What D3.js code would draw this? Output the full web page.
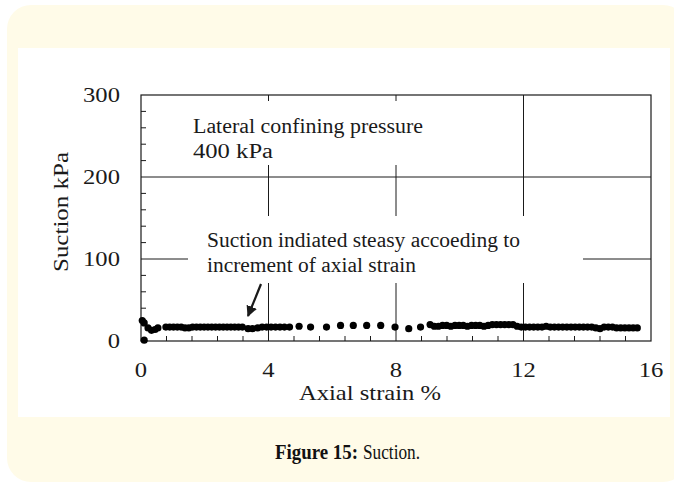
<!DOCTYPE html>
<html lang="en">
<head>
    <meta charset="UTF-8">
    <title>Figure 15 Suction</title>
    <script src="https://d3js.org/d3.v7.min.js"></script>
    <style>
        body { margin: 0; background: #ffffff; }
        svg { display: block; }
    </style>
</head>
<body>

<script>
    // data: axial strain (%) and suction (kPa)
    const strain = [0.04, 0.1, 0.1, 0.22, 0.33, 0.44, 0.53,
        0.78, 0.9, 1.02, 1.14, 1.26, 1.38, 1.5, 1.62, 1.74, 1.86, 1.98, 2.1, 2.22, 2.34, 2.46, 2.58, 2.7, 2.82, 2.94, 3.06, 3.18,
        3.36, 3.5, 3.66, 3.8, 3.94, 4.08, 4.22, 4.36, 4.5, 4.66,
        4.96, 5.32, 5.82, 6.26, 6.66, 7.08, 7.52, 7.97, 8.4, 8.77,
        9.07, 9.2, 9.33, 9.46, 9.59, 9.72, 9.85, 9.98, 10.11, 10.24, 10.37, 10.5, 10.63, 10.76, 10.89,
        11.02, 11.15, 11.28, 11.41, 11.54, 11.67, 11.8, 11.93, 12.06, 12.19, 12.32, 12.45, 12.58, 12.71, 12.84, 12.97,
        13.1, 13.23, 13.36, 13.49, 13.62, 13.75, 13.88, 14.01, 14.14, 14.27, 14.4, 14.53, 14.66, 14.79, 14.92,
        15.05, 15.18, 15.31, 15.44, 15.57];
    const suction = [25, 22, 1, 16, 13, 14, 16,
        17, 17, 17, 17, 17, 16, 16, 17, 17, 17, 17, 17, 17, 17, 17, 17, 17, 17, 17, 17, 17,
        15, 15, 16, 17, 17, 17, 17, 17, 17, 17,
        18, 17, 17, 19, 19, 19, 19, 17, 15, 17,
        20, 18, 18, 19, 19, 18, 19, 19, 19, 18, 19, 19, 19, 18, 19,
        20, 20, 20, 20, 20, 20, 18, 17, 17, 17, 17, 17, 17, 18, 17, 17,
        17, 17, 17, 17, 17, 17, 17, 17, 17, 16, 15, 17, 17, 17, 16,
        16, 16, 16, 16, 16];

    const xTicks = [0, 4, 8, 12, 16];
    const yTicks = [0, 100, 200, 300];

    const width = 674, height = 485;
    const plotL = 141, plotR = 651, plotT = 95, plotB = 341;

    const svg = d3.select("body").append("svg")
        .attr("width", width)
        .attr("height", height);

    // page background: cream card with white chart panel
    svg.append("rect")
        .attr("x", 7).attr("y", 5)
        .attr("width", 680).attr("height", 477)
        .attr("rx", 24)
        .attr("fill", "#fffbe8");
    svg.append("rect")
        .attr("x", 18).attr("y", 48)
        .attr("width", 652).attr("height", 369)
        .attr("fill", "#ffffff");

    const x = d3.scaleLinear().domain([0, 16]).range([plotL, plotR]);
    const y = d3.scaleLinear().domain([0, 300]).range([plotB, plotT]);

    const ink = "#1a1a1a";
    const serif = "'Liberation Serif', 'Times New Roman', serif";

    // gridlines
    const grid = svg.append("g").attr("stroke", ink).attr("stroke-width", 1);
    grid.selectAll(".vg").data([4, 8, 12]).enter().append("line")
        .attr("x1", d => x(d)).attr("x2", d => x(d))
        .attr("y1", plotT).attr("y2", plotB);
    grid.selectAll(".hg").data([100, 200]).enter().append("line")
        .attr("x1", plotL).attr("x2", plotR)
        .attr("y1", d => y(d)).attr("y2", d => y(d));

    // minor ticks, pointing inwards
    const minorX = d3.range(0, 16.01, 0.8).filter(v => v % 4 > 0.01 && v % 4 < 3.99);
    svg.append("g").selectAll("line").data(minorX).enter().append("line")
        .attr("x1", d => x(d)).attr("x2", d => x(d))
        .attr("y1", plotB).attr("y2", plotB - 5)
        .attr("stroke", ink);
    const minorY = d3.range(0, 300.1, 20).filter(v => v % 100 !== 0);
    svg.append("g").selectAll("line").data(minorY).enter().append("line")
        .attr("x1", plotL).attr("x2", plotL + 5)
        .attr("y1", d => y(d)).attr("y2", d => y(d))
        .attr("stroke", ink);

    // annotation boxes (white background hides the gridlines behind)
    svg.append("rect")
        .attr("x", 182).attr("y", 101).attr("width", 300).attr("height", 64)
        .attr("fill", "#fff");
    svg.append("rect")
        .attr("x", 188).attr("y", 216).attr("width", 395).attr("height", 67)
        .attr("fill", "#fff");

    function note(tx, ty, str, len) {
        svg.append("text")
            .attr("x", tx).attr("y", ty)
            .attr("font-family", serif).attr("font-size", 20.5).attr("fill", ink)
            .attr("textLength", len).attr("lengthAdjust", "spacingAndGlyphs")
            .text(str);
    }
    note(193, 133, "Lateral confining pressure", 230);
    note(193, 158, "400 kPa", 80);
    note(207, 247, "Suction indiated steasy accoeding to", 313);
    note(207, 272, "increment of axial strain", 209);

    // arrow
    svg.append("defs").append("marker")
        .attr("id", "head")
        .attr("viewBox", "0 0 10 10")
        .attr("refX", 9).attr("refY", 5)
        .attr("markerWidth", 5).attr("markerHeight", 5)
        .attr("orient", "auto")
        .append("path").attr("d", "M0,0 L10,5 L0,10 z").attr("fill", ink);
    svg.append("line")
        .attr("x1", 261).attr("y1", 284)
        .attr("x2", 248).attr("y2", 316)
        .attr("stroke", ink).attr("stroke-width", 2.2)
        .attr("marker-end", "url(#head)");

    // frame
    svg.append("rect")
        .attr("x", plotL).attr("y", plotT)
        .attr("width", plotR - plotL).attr("height", plotB - plotT)
        .attr("fill", "none").attr("stroke", ink).attr("stroke-width", 1.2);

    // points
    const pts = strain.map((s, i) => [s, suction[i]]);
    svg.append("g").selectAll("circle").data(pts).enter().append("circle")
        .attr("cx", d => x(d[0]))
        .attr("cy", d => y(d[1]))
        .attr("r", 3.6)
        .attr("fill", "#000");

    // tick labels (slightly wide, like the original)
    svg.append("g").selectAll("text").data(xTicks).enter().append("text")
        .attr("transform", d => `translate(${x(d)},377) scale(1.12,1)`)
        .attr("text-anchor", "middle")
        .attr("font-family", serif).attr("font-size", 22).attr("fill", ink)
        .text(d => d);
    svg.append("g").selectAll("text").data(yTicks).enter().append("text")
        .attr("transform", d => `translate(120,${y(d) + 7}) scale(1.12,1)`)
        .attr("text-anchor", "end")
        .attr("font-family", serif).attr("font-size", 22).attr("fill", ink)
        .text(d => d);

    // axis titles
    svg.append("text")
        .attr("x", 299).attr("y", 400)
        .attr("font-family", serif).attr("font-size", 22).attr("fill", ink)
        .attr("textLength", 142).attr("lengthAdjust", "spacingAndGlyphs")
        .text("Axial strain %");
    svg.append("text")
        .attr("transform", "translate(68,272) rotate(-90)")
        .attr("font-family", serif).attr("font-size", 22).attr("fill", ink)
        .attr("textLength", 120).attr("lengthAdjust", "spacingAndGlyphs")
        .text("Suction kPa");

    // caption, bold label then plain text
    svg.append("text")
        .attr("x", 275).attr("y", 459)
        .attr("font-family", serif).attr("font-size", 21.5).attr("font-weight", "bold").attr("fill", "#111")
        .attr("textLength", 83).attr("lengthAdjust", "spacingAndGlyphs")
        .text("Figure 15:");
    svg.append("text")
        .attr("x", 363).attr("y", 459)
        .attr("font-family", serif).attr("font-size", 21.5).attr("fill", "#111")
        .attr("textLength", 57).attr("lengthAdjust", "spacingAndGlyphs")
        .text("Suction.");
</script>

</body>
</html>
